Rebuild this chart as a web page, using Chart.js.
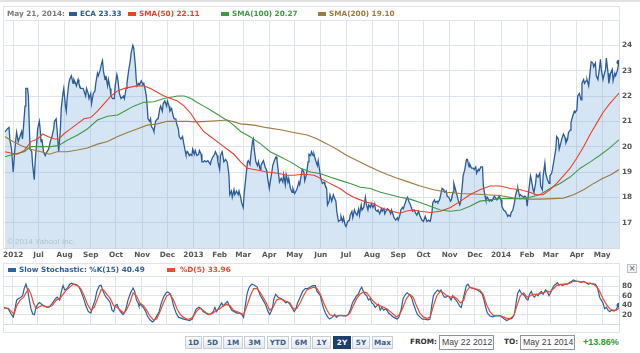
<!DOCTYPE html>
<html>
<head>
<meta charset="utf-8">
<script src="https://cdn.jsdelivr.net/npm/chart.js@4.4.1/dist/chart.umd.min.js"></script>
<style>
body{margin:0;background:#fff;}
#wrap{position:relative;width:640px;height:353px;overflow:hidden;font-family:"DejaVu Sans",sans-serif;}
.lg{position:absolute;font-weight:bold;font-size:7.3px;line-height:10px;white-space:nowrap;z-index:2;}
.sw{position:absolute;width:8px;height:4px;z-index:2;}
.box{position:absolute;border:1px solid #dfe4ea;box-sizing:border-box;}
.btn{position:absolute;top:336px;height:13px;box-sizing:border-box;border:1px solid #c6cdd6;background:linear-gradient(#fdfdfe,#e4e9ef);color:#3b5e8c;font-weight:bold;font-size:7.3px;line-height:11px;text-align:center;}
.btn.on{background:#1f3f6b;border-color:#1f3f6b;color:#fff;}
.inp{position:absolute;top:335px;height:15px;box-sizing:border-box;border:1px solid #8f969e;font-family:"Liberation Sans",sans-serif;font-size:8.7px;line-height:13px;color:#444;padding-left:2px;}
canvas{position:absolute;left:0;}
</style>
</head>
<body>
<div id="wrap">
  <div style="position:absolute;left:0;top:0;width:640px;height:2px;background:#e2e2e2"></div>
  <div class="box" style="left:3px;top:6px;width:617px;height:243px"></div>
  <div class="box" style="left:3px;top:263px;width:617px;height:70px"></div>

  <div class="lg" style="left:7px;top:9px;color:#7a7a7a">May 21, 2014:</div>
  <div class="sw" style="left:69px;top:12px;background:#2b5c97"></div>
  <div class="lg" style="left:80px;top:9px;color:#2b5c97">ECA 23.33</div>
  <div class="sw" style="left:128px;top:12px;background:#e8412c"></div>
  <div class="lg" style="left:139px;top:9px;color:#e8412c">SMA(50) 22.11</div>
  <div class="sw" style="left:221px;top:12px;background:#3f9a44"></div>
  <div class="lg" style="left:232px;top:9px;color:#3f9a44">SMA(100) 20.27</div>
  <div class="sw" style="left:318px;top:12px;background:#9d7b3f"></div>
  <div class="lg" style="left:329px;top:9px;color:#9d7b3f">SMA(200) 19.10</div>

  <div style="position:absolute;left:7px;top:237px;font-family:'Liberation Sans',sans-serif;font-size:8px;color:#b3c1cf;z-index:2">© 2014 Yahoo! Inc.</div>

  <div class="sw" style="left:8px;top:268px;background:#30609a"></div>
  <div class="lg" style="left:19px;top:265px;color:#30609a">Slow Stochastic: %K(15) 40.49</div>
  <div class="sw" style="left:167px;top:268px;background:#ef4a32"></div>
  <div class="lg" style="left:180px;top:265px;color:#ef4a32">%D(5) 33.96</div>
  <div style="position:absolute;left:627px;top:264px;width:10px;height:9px;box-sizing:border-box;border:1px solid #b8bec6;background:#f3f5f7;font-size:8px;line-height:7px;text-align:center;color:#555">×</div>

  <canvas id="priceChart" width="640" height="263" style="top:0"></canvas>
  <canvas id="stochChart" width="640" height="68" style="top:264px"></canvas>

  <div class="btn" style="left:185px;width:17px">1D</div>
  <div class="btn" style="left:203px;width:19px">5D</div>
  <div class="btn" style="left:223px;width:20px">1M</div>
  <div class="btn" style="left:244px;width:21px">3M</div>
  <div class="btn" style="left:267px;width:22px">YTD</div>
  <div class="btn" style="left:291px;width:20px">6M</div>
  <div class="btn" style="left:312px;width:19px">1Y</div>
  <div class="btn on" style="left:333px;width:18px">2Y</div>
  <div class="btn" style="left:352px;width:18px">5Y</div>
  <div class="btn" style="left:372px;width:21px">Max</div>
  <div class="lg" style="left:410px;top:337px;color:#333">FROM:</div>
  <div class="inp" style="left:439px;width:55px">May 22 2012</div>
  <div class="lg" style="left:504px;top:337px;color:#333">TO:</div>
  <div class="inp" style="left:520px;width:55px">May 21 2014</div>
  <div style="position:absolute;left:583px;top:337px;font-family:'Liberation Sans',sans-serif;font-weight:bold;font-size:9px;line-height:11px;color:#2f9a2f">+13.86%</div>
</div>

<script>
// x values are days since May 22 2012
const monthDays = [10,40,71,102,132,163,193,224,255,283,314,344,375,405,436,467,497,528,558,589,620,648,679,709];
const monthLabels = ['2012','Jul','Aug','Sep','Oct','Nov','Dec','2013','Feb','Mar','Apr','May','Jun','Jul','Aug','Sep','Oct','Nov','Dec','2014','Feb','Mar','Apr','May'];

const ecaDays = [
  0,3,5,6,8,10,12,14,16,18,
  20,21,22,24,25,27,28,30,32,33,
  35,36,38,39,41,42,43,44,46,48,
  50,52,54,56,58,59,61,62,64,66,
  67,69,70,72,73,74,76,77,79,81,
  82,84,85,87,88,90,92,93,95,96,
  97,99,100,102,103,105,107,108,110,111,
  113,115,116,117,119,120,122,123,125,126,
  128,130,131,133,134,136,138,139,141,142,
  144,145,147,149,150,152,153,155,156,157,
  159,160,162,164,165,167,168,169,170,172,
  173,174,176,177,179,181,182,184,185,187,
  188,190,192,193,195,196,198,200,201,203,
  204,206,207,209,211,212,214,215,217,219,
  220,222,223,225,226,228,230,231,233,234,
  236,237,239,241,242,244,245,247,249,250,
  252,253,255,256,258,260,262,264,266,267,
  269,270,272,273,275,277,278,280,281,283,
  284,286,288,289,291,292,294,295,296,298,
  300,301,303,304,306,307,309,311,312,314,
  315,317,318,320,322,323,325,326,328,330,
  331,333,334,336,337,339,341,342,344,345,
  347,349,350,352,353,355,356,358,360,361,
  363,364,366,367,369,371,372,374,375,377,
  379,380,382,383,385,386,388,390,391,393,
  394,396,398,399,401,402,404,405,407,409,
  410,412,413,415,416,418,420,421,423,424,
  426,428,429,431,432,434,435,437,439,440,
  442,443,445,447,448,450,451,453,454,456,
  458,459,461,462,464,466,467,469,470,472,
  473,475,477,478,480,481,483,484,486,488,
  489,491,493,495,497,499,501,503,505,507,
  508,510,511,513,514,516,518,519,521,522,
  524,525,527,529,530,532,533,535,537,538,
  540,541,543,544,546,548,549,551,552,554,
  556,557,559,560,562,563,565,567,568,570,
  571,573,575,576,578,579,581,582,584,586,
  587,589,590,592,594,595,597,598,600,601,
  603,605,606,608,609,611,612,614,616,617,
  619,620,622,624,625,627,628,630,631,633,
  635,636,638,639,641,642,644,646,647,649,
  650,652,654,655,657,658,660,661,663,665,
  666,668,669,671,672,674,676,677,679,680,
  682,684,685,687,688,690,691,693,695,696,
  698,699,701,702,704,706,707,708,710,711,
  713,714,716,717,719,721,722,724,725,727,
  729
];
const ecaClose = [
  20.57,20.7,20.76,20.3,19.9,19.0,19.9,20.57,20.2,20.4,
  20.6,20.3,20.7,21.6,22.3,22.3,22.0,19.9,19.8,19.3,
  18.7,19.4,20.2,20.7,21.0,20.7,20.2,20.3,19.8,19.65,
  19.8,19.9,20.2,20.4,20.7,21.0,21.1,20.7,19.8,20.7,
  21.5,22.1,22.3,21.6,21.4,21.9,22.5,22.65,22.8,22.5,
  22.65,22.5,22.4,22.65,22.5,22.3,22.3,22.3,22.1,22.0,
  22.3,22.1,21.9,22.1,21.7,22.1,22.2,22.5,22.9,22.8,
  23.0,23.3,23.4,23.0,22.65,22.8,22.4,22.65,22.3,22.0,
  21.9,21.9,22.4,22.85,22.7,22.1,21.9,21.9,22.0,21.9,
  22.3,22.5,23.0,23.4,23.7,24.0,23.9,23.2,22.65,22.4,
  22.5,22.45,22.6,22.45,22.5,22.2,22.0,21.6,21.1,21.0,
  21.1,20.8,20.7,20.6,21.0,21.1,21.1,21.5,21.6,21.4,
  21.7,21.8,21.6,21.8,21.6,21.4,21.5,21.2,21.1,21.1,
  20.9,20.7,20.4,20.3,20.4,20.2,19.85,19.7,19.8,19.65,
  19.7,19.65,19.9,19.7,19.85,19.65,19.7,19.85,19.7,19.4,
  19.4,19.45,19.4,19.45,19.4,19.3,19.45,19.6,19.7,19.8,
  19.65,19.4,19.1,19.65,19.8,19.4,19.5,19.4,18.9,18.1,
  18.25,18.0,18.3,18.1,18.25,18.1,18.25,18.0,17.8,17.6,
  18.1,18.75,19.4,19.45,19.3,19.65,20.2,20.3,19.9,19.4,
  19.25,19.4,19.1,19.25,19.4,19.45,19.2,19.05,18.75,18.35,
  18.6,19.0,19.25,19.45,19.6,19.5,18.9,18.6,18.75,18.6,
  18.9,18.5,18.9,18.6,18.75,18.35,18.2,18.35,18.15,18.2,
  18.35,18.6,18.5,18.9,19.1,19.0,18.65,18.9,19.4,19.7,
  19.65,19.8,19.65,19.7,19.45,19.25,19.45,19.0,18.75,18.55,
  18.6,18.5,18.35,17.7,17.85,18.1,17.85,18.1,18.0,17.85,
  17.45,17.05,17.1,17.25,17.05,17.2,16.9,16.85,17.05,17.1,
  17.3,17.45,17.2,17.5,17.4,17.3,17.55,17.3,17.7,17.5,
  17.6,18.0,17.75,17.5,17.7,17.6,17.75,17.6,17.75,17.5,
  17.45,17.5,17.35,17.55,17.45,17.55,17.35,17.5,17.55,17.5,
  17.35,17.5,17.3,17.2,17.1,17.2,17.1,17.3,17.5,17.6,
  17.55,17.75,17.95,18.0,17.8,17.75,17.55,17.45,17.5,17.35,
  17.3,17.45,17.25,17.1,17.05,17.25,17.05,17.1,17.05,17.4,
  17.8,17.9,17.8,17.85,17.8,17.9,18.2,18.35,18.3,18.2,
  18.25,18.05,18.0,17.85,17.9,18.2,18.55,18.3,18.05,17.9,
  17.7,17.8,18.45,18.85,19.1,19.5,19.5,19.2,19.3,19.15,
  19.15,19.1,19.2,18.95,19.1,19.05,19.2,19.2,18.45,18.05,
  17.9,18.0,17.85,17.9,17.85,17.9,18.05,18.0,17.9,18.0,
  18.05,17.9,17.65,17.5,17.45,17.4,17.25,17.3,17.25,17.4,
  17.5,17.8,18.05,18.3,18.35,18.05,18.1,18.05,18.0,18.05,
  18.0,17.65,18.3,18.85,18.7,18.3,18.2,18.55,18.9,18.8,
  18.95,18.45,18.3,18.85,19.35,18.95,18.7,18.55,18.85,18.95,
  19.1,19.5,19.9,20.4,20.3,19.9,20.15,20.3,20.5,20.35,
  20.15,20.3,20.55,20.65,20.95,21.2,21.4,21.35,21.45,22.0,
  22.1,21.85,22.5,22.65,22.5,22.6,22.65,22.4,23.05,23.35,
  23.3,23.15,23.3,22.8,22.65,23.15,23.45,23.05,22.65,22.8,
  23.05,23.5,22.9,22.5,22.9,23.05,22.6,22.9,22.8,23.0,
  23.33
];

const sma50Days = [0,7,15,23,31,39,45,51,59,64,70,78,86,94,102,110,118,126,134,142,149,157,165,173,181,189,197,205,213,221,228,236,244,256,264,272,280,288,296,304,311,319,327,335,343,351,359,367,375,383,390,398,406,414,422,430,438,446,454,462,469,477,485,493,505,517,529,541,552,564,576,588,600,612,623,631,639,647,655,663,671,679,687,695,703,710,718,726,729];
const sma50 = [19.8,19.75,19.7,19.85,20.2,20.3,20.5,20.4,20.3,20.3,20.5,20.7,20.9,21.1,21.15,21.4,21.7,22.0,22.2,22.3,22.35,22.4,22.4,22.3,22.15,22.0,21.9,21.8,21.6,21.3,20.95,20.6,20.4,20.1,19.9,19.7,19.4,19.15,19.1,19.05,19.0,18.97,18.93,18.87,18.87,18.9,18.9,18.87,18.74,18.6,18.48,18.35,18.15,18.0,17.9,17.8,17.75,17.6,17.5,17.43,17.37,17.46,17.5,17.45,17.4,17.45,17.6,17.85,18.1,18.3,18.45,18.45,18.35,18.3,18.2,18.1,18.1,18.3,18.55,18.85,19.15,19.55,20.0,20.5,20.95,21.35,21.7,22.0,22.11];

const sma100Days = [0,11,23,31,39,47,55,64,74,86,98,110,122,134,142,153,165,177,189,197,205,213,221,228,236,244,256,268,280,292,304,315,327,339,351,363,375,386,398,410,422,434,446,458,469,481,493,505,517,529,541,552,564,576,588,600,612,623,635,647,659,671,683,695,706,718,729];
const sma100 = [19.6,19.7,19.8,20.0,20.0,20.0,20.0,20.05,20.25,20.45,20.7,21.05,21.2,21.25,21.4,21.6,21.75,21.77,21.9,21.95,22.0,22.0,21.9,21.75,21.6,21.45,21.2,20.95,20.6,20.37,20.1,19.8,19.6,19.4,19.15,19.0,18.93,18.8,18.67,18.55,18.4,18.35,18.2,18.1,18.0,17.93,17.8,17.65,17.5,17.45,17.5,17.65,17.85,17.9,17.95,17.95,17.95,18.0,18.1,18.35,18.55,18.8,19.15,19.4,19.65,19.95,20.27];

const sma200Days = [0,7,19,31,43,53,62,74,86,98,110,122,134,145,157,169,181,193,205,217,228,240,256,264,280,296,311,327,343,359,371,383,394,406,418,430,442,454,465,477,493,509,525,541,556,572,588,604,620,635,651,663,675,687,699,710,720,729];
const sma200 = [20.4,20.25,20.05,19.9,19.8,19.7,19.8,19.8,19.87,19.95,20.1,20.2,20.4,20.55,20.7,20.85,20.9,21.0,21.0,21.0,20.98,21.0,21.03,21.05,20.9,20.85,20.75,20.67,20.56,20.46,20.3,20.1,19.9,19.65,19.45,19.26,19.07,18.9,18.76,18.63,18.45,18.3,18.2,18.15,18.13,18.1,18.07,17.97,17.93,17.93,17.95,17.97,18.1,18.3,18.55,18.75,18.9,19.1];

const kDays = [
  0,5,9,11,13,15,17,20,22,24,
  26,28,30,32,34,36,38,40,42,45,
  49,53,57,61,63,66,68,70,72,74,
  76,78,80,83,86,89,92,95,97,100,
  103,105,108,110,113,115,117,119,121,124,
  126,128,130,132,134,136,138,141,143,145,
  147,150,153,155,157,159,160,162,165,168,
  170,173,176,178,181,184,186,189,192,194,
  197,199,201,204,207,211,213,217,220,223,
  225,228,231,234,236,239,242,245,248,250,
  252,254,256,258,260,263,265,267,270,273,
  276,279,282,284,286,288,290,292,294,297,
  300,302,304,307,310,313,315,318,320,322,
  325,328,331,334,336,339,342,344,346,348,
  351,354,357,360,363,366,369,371,375,
  377,379,381,384,386,389,392,394,396,399,
  402,405,408,411,413,416,418,420,422,424,
  426,428,430,432,434,436,438,440,442,444,
  446,448,450,452,454,456,460,462,466,468,
  471,473,476,478,480,483,485,488,490,493,
  496,499,502,505,507,509,511,514,516,518,
  520,522,524,526,528,530,532,534,536,538,
  540,542,544,546,548,550,552,555,558,561,
  564,567,569,571,573,576,579,582,585,588,
  591,593,596,599,602,605,607,609,611,613,
  615,617,619,621,623,625,627,629,631,633,
  635,637,639,641,642,644,646,648,650,652,
  654,656,658,660,662,665,668,670,673,675,
  678,681,684,687,690,693,695,698,701,703,
  705,706,708,710,712,714,716,718,720,723,
  725,727,729
];
const kValues = [
  35.8,32.7,20.6,15.8,32.7,50.9,53.9,57,60,75,
  84,72,51,32.7,22,20.6,35.8,42,46,42,
  37.6,35.8,43.6,54,57,51,69,81,72,74,
  78,84,86,84,83,78,66,51,39,27,
  24,36,51,69,81,82,72,63,57,51,
  45,30,27,40,42,33,27,21,25,36,
  51,66,76,69,51,45,39,42,36,27,
  18,10,5.5,8.5,17.6,27,42,57,66,68,
  64,54,39,24,15,13,11.5,10,8.5,11.5,
  20.6,32.7,36,33,27,24,21,22,27,36,
  27,33,39,45,39,45,48,39,30,27,
  24,24,21,15,39,63,75,81,84,82,
  78,69,60,51,42,27,21,33,54,63,
  57,54,51,45,48,42,33,27,33,45,
  57,69,75,75,78,81,81,69,60,
  45,33,24,15,11.5,15,21,15,18,19,
  18,18,21,33,45,54,60,63,72,78,
  69,63,60,51,54,45,42,36,39,42,
  30,36,30,33,30,24,18,15,11.5,15,
  33,54,63,66,63,57,45,30,21,16,
  11.5,11.5,10,11.5,39,60,66,72,69,72,
  63,57,57,60,57,51,60,54,51,45,
  39,36,51,66,81,84,78,75,74,72,
  69,63,51,36,24,18,16,18,18,18,
  15,11.5,8.5,11.5,13,21,45,66,72,66,
  63,60,54,51,63,69,60,57,63,60,
  66,69,63,69,72,69,60,66,75,81,
  84,87,82,84,81,84,84,87,90,93,
  90,90,88,90,87,84,86,84,84,78,
  66,57,51,45,33,36,30,27,30,28,
  30,36,40.49
];

const dDays = [
  0,5,9,12,15,19,23,26,29,32,
  35,38,41,45,51,57,62,66,70,74,
  78,82,87,91,95,99,103,107,111,115,
  118,122,126,130,134,138,142,145,149,153,
  157,161,165,169,173,177,181,185,189,193,
  197,201,205,209,213,217,220,224,228,232,
  236,240,244,248,252,256,260,264,268,272,
  276,280,284,288,292,296,300,304,307,311,
  315,319,323,327,331,335,339,343,347,351,
  355,359,363,367,371,375,
  379,383,386,390,394,398,402,406,410,414,
  418,422,426,430,434,438,442,446,450,454,
  458,462,465,469,473,477,481,485,489,493,
  497,501,505,509,513,517,521,525,529,533,
  537,541,545,548,552,556,560,564,568,572,
  576,580,584,588,592,596,600,604,608,612,
  616,620,624,627,631,635,639,643,647,651,
  655,659,663,667,671,675,679,683,687,691,
  695,699,703,707,710,714,718,722,726,729
];
const dValues = [
  34,34,27,22,39,51,56,66,74,63,
  45,33,36,40,36,39,51,54,63,72,
  78,84,81,75,60,42,30,36,54,72,
  72,63,54,39,36,30,24,30,45,66,
  60,45,40,30,18,10,11.5,27,45,60,
  63,51,33,21,15,11.5,11.5,15,27,34,
  30,24,21,24,30,33,39,42,39,30,
  27,24,21,39,60,75,75,66,57,45,
  30,36,51,54,51,48,45,33,33,45,
  60,72,75,78,75,63,
  45,30,21,18,18,19,19,18,24,39,
  54,63,68,66,57,48,42,39,36,33,
  27,21,16,21,36,54,63,57,39,24,
  16,13,15,39,60,69,66,60,57,58,
  54,45,51,69,78,76,74,72,63,42,
  27,19,19,19,16,13,13,18,39,60,
  66,57,60,63,63,64,66,69,68,74,
  81,83,84,84,86,90,90,89,89,87,
  86,84,78,66,54,42,33,30,30,33.96
];

function pts(days, vals) {
  return days.map((d, i) => ({x: d, y: vals[i]}));
}
function lastDot(len, r) {
  return c => (c.dataIndex === len - 1 ? r : 0);
}

const tickFont = {family: 'DejaVu Sans', size: 7.3, weight: 'bold'};
const gridColor = '#dde4eb';

function monthAxis(showLabels) {
  return {
    type: 'linear', min: 0, max: 729,
    afterBuildTicks: s => { s.ticks = monthDays.map(v => ({value: v})); },
    afterFit: s => { s.height = showLabels ? 15 : 0; },
    ticks: {
      display: showLabels, autoSkip: false, maxRotation: 0, padding: 3,
      font: tickFont, color: '#555',
      callback: v => monthLabels[monthDays.indexOf(v)]
    },
    grid: {color: gridColor, drawTicks: false},
    border: {color: '#d3dae2'}
  };
}

function valueAxis(min, max, step) {
  return {
    position: 'right', min: min, max: max,
    afterFit: s => { s.width = 21; },
    ticks: {stepSize: step, autoSkip: false, padding: 3, font: tickFont, color: '#555',
            callback: v => (v > min && v < max ? v : '')},
    grid: {color: gridColor, drawTicks: false},
    border: {color: '#d3dae2'}
  };
}

new Chart(document.getElementById('priceChart'), {
  type: 'line',
  data: {
    datasets: [
      {label: 'SMA(50)', data: pts(sma50Days, sma50), borderColor: '#e8412c', borderWidth: 1.1, pointRadius: 0, fill: false, order: 1},
      {label: 'SMA(100)', data: pts(sma100Days, sma100), borderColor: '#3f9a44', borderWidth: 1.1, pointRadius: 0, fill: false, order: 2},
      {label: 'SMA(200)', data: pts(sma200Days, sma200), borderColor: '#9d7b3f', borderWidth: 1.1, pointRadius: 0, fill: false, order: 3},
      {label: 'ECA', data: pts(ecaDays, ecaClose), borderColor: '#2b5c97', borderWidth: 1.3,
       backgroundColor: 'rgba(120,170,215,0.3)', fill: 'start',
       pointRadius: lastDot(ecaDays.length, 2.5), pointBackgroundColor: '#2b5c97', pointBorderWidth: 0, order: 4}
    ]
  },
  options: {
    responsive: false, animation: false, events: [],
    layout: {padding: {left: 4, top: 20, right: 0, bottom: 0}},
    plugins: {legend: {display: false}, tooltip: {enabled: false}, filler: {drawTime: 'beforeDatasetsDraw'}},
    scales: {
      x: monthAxis(true),
      y: valueAxis(16, 25, 1)
    }
  }
});

new Chart(document.getElementById('stochChart'), {
  type: 'line',
  data: {
    datasets: [
      {label: '%K(15)', data: pts(kDays, kValues), borderColor: '#30609a', borderWidth: 1.2,
       pointRadius: lastDot(kDays.length, 2.5), pointBackgroundColor: '#30609a', pointBorderWidth: 0, fill: false, order: 2},
      {label: '%D(5)', data: pts(dDays, dValues), borderColor: '#ef4a32', borderWidth: 1.2, pointRadius: 0, fill: false, order: 1}
    ]
  },
  options: {
    responsive: false, animation: false, events: [],
    layout: {padding: {left: 4, top: 12.5, right: 0, bottom: 0}},
    plugins: {legend: {display: false}, tooltip: {enabled: false}},
    scales: {
      x: monthAxis(false),
      y: valueAxis(0, 100, 20)
    }
  }
});
</script>
</body>
</html>
